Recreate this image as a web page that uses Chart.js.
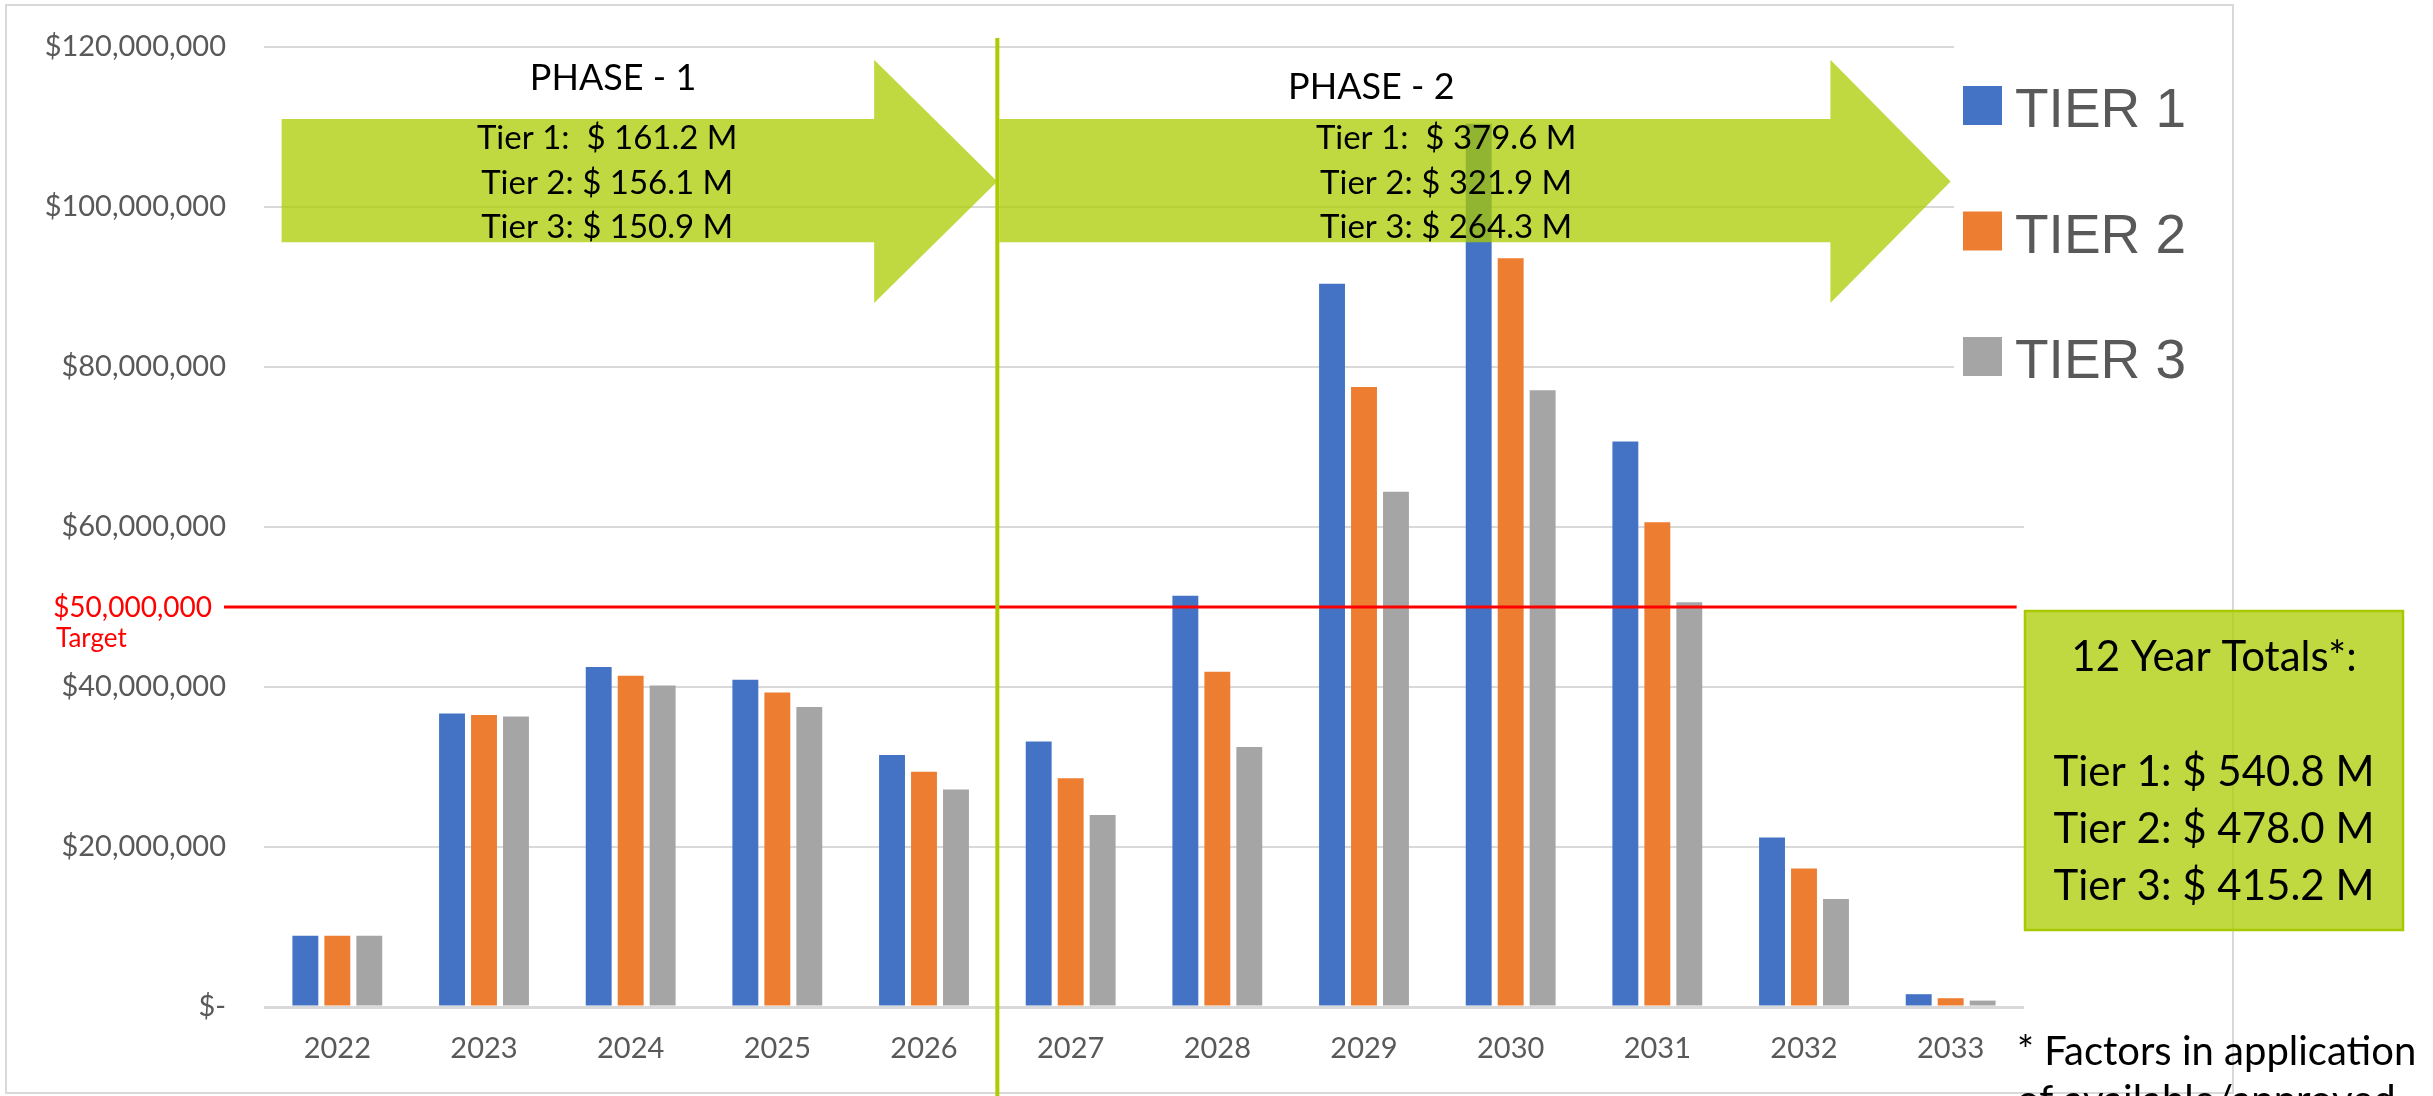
<!DOCTYPE html>
<html>
<head>
<meta charset="utf-8">
<script src="https://cdn.jsdelivr.net/npm/chart.js@4.4.1/dist/chart.umd.min.js"></script>
<style>
  html, body { margin: 0; padding: 0; background: #fff; }
  #wrap { width: 2433px; height: 1096px; }
</style>
</head>
<body>
<div id="wrap"><canvas id="tierChart" width="2433" height="1096"></canvas></div>
<script>
// x axis years
const years = ['2022', '2023', '2024', '2025', '2026', '2027', '2028', '2029', '2030', '2031', '2032', '2033'];

// yearly amounts per tier, millions of dollars
const tier1 = [8.9, 36.7, 42.5, 40.9, 31.5, 33.2, 51.4, 90.4, 110.4, 70.7, 21.2, 1.6];
const tier2 = [8.9, 36.5, 41.4, 39.3, 29.4, 28.6, 41.9, 77.5, 93.6, 60.6, 17.3, 1.1];
const tier3 = [8.9, 36.3, 40.2, 37.5, 27.2, 24.0, 32.5, 64.4, 77.1, 50.6, 13.5, 0.8];

const seriesNames = ['TIER 1', 'TIER 2', 'TIER 3'];
const seriesColors = ['#4472c4', '#ed7d31', '#a5a5a5'];

// target line, dollars
const targetValue = 50000000;

// annotation texts
const phase1Lines = ['Tier 1:  $ 161.2 M', 'Tier 2: $ 156.1 M', 'Tier 3: $ 150.9 M'];
const phase2Lines = ['Tier 1:  $ 379.6 M', 'Tier 2: $ 321.9 M', 'Tier 3: $ 264.3 M'];
const totalsLines = ['Tier 1: $ 540.8 M', 'Tier 2: $ 478.0 M', 'Tier 3: $ 415.2 M'];

const LIME = 'rgba(172, 204, 0, 0.75)';
const FONT = 'Lato, "Noto Sans", sans-serif';

function drawArrow(ctx, x0, xh, xt, bodyTop, bodyBot, headTop, headBot) {
    const mid = (headTop + headBot) / 2;
    ctx.beginPath();
    ctx.moveTo(x0, bodyTop);
    ctx.lineTo(xh, bodyTop);
    ctx.lineTo(xh, headTop);
    ctx.lineTo(xt, mid);
    ctx.lineTo(xh, headBot);
    ctx.lineTo(xh, bodyBot);
    ctx.lineTo(x0, bodyBot);
    ctx.closePath();
    ctx.fill();
}

const overlay = {
    id: 'overlay',
    beforeDraw(chart) {
        const ctx = chart.ctx;
        ctx.save();
        ctx.strokeStyle = '#d9d9d9';
        ctx.lineWidth = 2;
        ctx.strokeRect(6, 5, 2227, 1088);
        ctx.restore();
    },
    afterDatasetsDraw(chart) {
        const ctx = chart.ctx, xs = chart.scales.x, ys = chart.scales.y;
        const step = xs.getPixelForValue(1) - xs.getPixelForValue(0);
        const xAt = i => xs.getPixelForValue(0) + i * step;
        const yAt = m => ys.getPixelForValue(m * 1e6);
        ctx.save();

        // phase arrows
        ctx.fillStyle = LIME;
        drawArrow(ctx, xAt(-0.38), xAt(3.66), xAt(4.5), yAt(111), yAt(95.6), yAt(118.4), yAt(88));
        drawArrow(ctx, xAt(4.5) + 2, xAt(10.18), xAt(11), yAt(111), yAt(95.6), yAt(118.4), yAt(88));

        // phase texts
        ctx.fillStyle = '#000';
        ctx.textAlign = 'center';
        ctx.textBaseline = 'middle';
        ctx.font = '36px ' + FONT;
        ctx.fillText('PHASE - 1', xAt(1.88), yAt(116.1));
        ctx.fillText('PHASE - 2', xAt(7.05), yAt(115.0));
        ctx.font = '33px ' + FONT;
        const rows = [108.6, 103.0, 97.5];
        phase1Lines.forEach((t, i) => ctx.fillText(t, xAt(1.84), yAt(rows[i])));
        phase2Lines.forEach((t, i) => ctx.fillText(t, xAt(7.56), yAt(rows[i])));

        // target line
        const ty = ys.getPixelForValue(targetValue);
        ctx.strokeStyle = '#ff0000';
        ctx.lineWidth = 3;
        ctx.beginPath();
        ctx.moveTo(224, ty);
        ctx.lineTo(xAt(11.45), ty);
        ctx.stroke();
        ctx.fillStyle = '#ff0000';
        ctx.textAlign = 'right';
        ctx.font = '28px ' + FONT;
        ctx.fillText('$' + targetValue.toLocaleString('en-US'), 212, ty + 1);
        ctx.textAlign = 'left';
        ctx.font = '26px ' + FONT;
        ctx.fillText('Target', 56, ty + 32);
        ctx.restore();
    },
    afterDraw(chart) {
        const ctx = chart.ctx, xs = chart.scales.x;
        const step = xs.getPixelForValue(1) - xs.getPixelForValue(0);
        const split = xs.getPixelForValue(0) + 4.5 * step;
        ctx.save();

        // legend panel
        ctx.fillStyle = '#fff';
        ctx.fillRect(1954, 20, 277, 400);
        chart.data.datasets.forEach((ds, i) => {
            const top = 86 + i * 125.5;
            ctx.fillStyle = ds.backgroundColor;
            ctx.fillRect(1963, top, 39, 39);
            ctx.fillStyle = '#595959';
            ctx.font = '55px "Liberation Sans", Arial, sans-serif';
            ctx.textAlign = 'left';
            ctx.textBaseline = 'alphabetic';
            ctx.fillText(ds.label, 2015, top + 41);
        });

        // totals box
        ctx.fillStyle = LIME;
        ctx.fillRect(2025, 611, 378, 319);
        ctx.strokeStyle = '#a9c800';
        ctx.lineWidth = 2.5;
        ctx.strokeRect(2025, 611, 378, 319);
        ctx.fillStyle = '#000';
        ctx.textAlign = 'center';
        ctx.textBaseline = 'middle';
        ctx.font = '42px ' + FONT;
        ctx.fillText('12 Year Totals*:', 2214, 657);
        [772, 829, 886].forEach((y, i) => ctx.fillText(totalsLines[i], 2214, y));

        // footnote
        ctx.textAlign = 'left';
        ctx.textBaseline = 'alphabetic';
        ctx.font = '40px ' + FONT;
        ctx.fillText('* Factors in application', 2017, 1065);
        ctx.fillText('of available/approved', 2017, 1114);

        // phase divider
        ctx.strokeStyle = '#aecb00';
        ctx.lineWidth = 4;
        ctx.beginPath();
        ctx.moveTo(split, 38);
        ctx.lineTo(split, 1096);
        ctx.stroke();
        ctx.restore();
    }
};

const ctx = document.getElementById('tierChart').getContext('2d');
new Chart(ctx, {
    type: 'bar',
    data: {
        labels: years,
        datasets: [tier1, tier2, tier3].map((vals, i) => ({
            label: seriesNames[i],
            data: vals.map(v => v * 1e6),
            backgroundColor: seriesColors[i],
            borderWidth: 0,
            categoryPercentage: 0.654,
            barPercentage: 0.81
        }))
    },
    options: {
        responsive: false,
        animation: false,
        layout: { padding: { left: 0, top: 47, right: 409, bottom: 0 } },
        plugins: {
            legend: { display: false },
            tooltip: { enabled: false }
        },
        scales: {
            x: {
                grid: { display: false },
                border: { display: false },
                ticks: { color: '#595959', font: { family: FONT, size: 29 }, padding: 16 },
                afterFit: s => { s.height = 89; }
            },
            y: {
                min: 0,
                max: 120000000,
                border: { display: false },
                grid: {
                    color: '#d9d9d9',
                    lineWidth: c => (c.tick && c.tick.value === 0 ? 3 : 2),
                    drawTicks: false
                },
                ticks: {
                    stepSize: 20000000,
                    color: '#595959',
                    font: { family: FONT, size: 29 },
                    padding: 38,
                    callback: v => (v === 0 ? '$-' : '$' + v.toLocaleString('en-US'))
                },
                afterFit: s => {
                    s.width = 264;
                    s.paddingTop = 0;
                    s.paddingBottom = 0;
                }
            }
        }
    },
    plugins: [overlay]
});
</script>
</body>
</html>
